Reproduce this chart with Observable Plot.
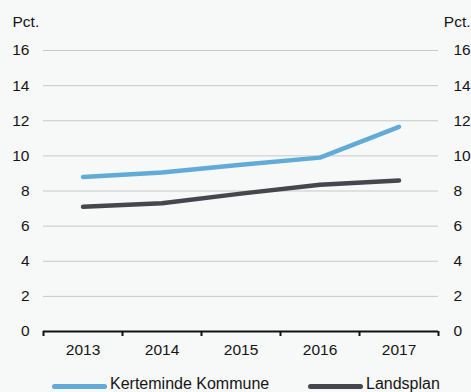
<!DOCTYPE html>
<html>
<head>
<meta charset="utf-8">
<script src="https://cdn.jsdelivr.net/npm/d3@7"></script>
<script src="https://cdn.jsdelivr.net/npm/@observablehq/plot@0.6"></script>
<style>
  html, body { margin: 0; padding: 0; background: #f7f8f8; overflow: hidden; }
  body { width: 471px; height: 392px; font-family: "Liberation Sans", Arial, sans-serif; color: #151515; }
  #chart svg { display: block; }
  #legend { position: relative; height: 26px; font-size: 16px; line-height: 18px; }
  .item { position: absolute; top: 9px; display: flex; align-items: center; }
  .sw { width: 55px; height: 5px; border-radius: 3px; margin-right: 3px; position: relative; top: 2px; }
</style>
</head>
<body>
<div id="chart"></div>
<div id="legend"></div>
<script>
const years = [2013, 2014, 2015, 2016, 2017];
const kerteminde = [8.8, 9.05, 9.5, 9.9, 11.65];
const landsplan = [7.1, 7.3, 7.85, 8.35, 8.6];
const seriesNames = ["Kerteminde Kommune", "Landsplan"];
const seriesColors = ["#62aad8", "#46474c"];
const yTicks = [0, 2, 4, 6, 8, 10, 12, 14, 16];
const unitLabel = "Pct.";

const data = [
  ...years.map((y, i) => ({year: y, value: kerteminde[i], series: seriesNames[0]})),
  ...years.map((y, i) => ({year: y, value: landsplan[i], series: seriesNames[1]}))
];
const bounds = years.map(y => y - 0.5).concat([years[years.length - 1] + 0.5]);

const fs = 15.5;
const plot = Plot.plot({
  width: 471,
  height: 366,
  marginTop: 50,
  marginBottom: 35,
  marginLeft: 43,
  marginRight: 33,
  style: {background: "#f7f8f8", fontFamily: "Liberation Sans, Arial, sans-serif", fontSize: "15.5px", color: "#151515"},
  x: {type: "linear", domain: [bounds[0], bounds[bounds.length - 1]]},
  y: {domain: [0, 16]},
  color: {domain: seriesNames, range: seriesColors},
  marks: [
    Plot.gridY(yTicks.filter(d => d > 0), {stroke: "#c8c8c8", strokeOpacity: 1, strokeWidth: 1}),
    Plot.axisY(yTicks, {anchor: "left", tickSize: 0, tickPadding: 14, label: null, fontSize: fs}),
    Plot.axisY(yTicks, {anchor: "right", tickSize: 0, tickPadding: 15, label: null, fontSize: fs}),
    Plot.axisX(bounds, {tickSize: 5, tickFormat: () => "", label: null, stroke: "#111", strokeWidth: 2, strokeOpacity: 1}),
    Plot.axisX(years, {tickSize: 0, tickPadding: 12, tickFormat: d => String(d), label: null, fontSize: fs}),
    Plot.ruleY([0], {stroke: "#111", strokeWidth: 2}),
    Plot.line(data, {x: "year", y: "value", stroke: "series", strokeWidth: 4.5, strokeLinecap: "round", strokeLinejoin: "round"}),
    Plot.text([unitLabel], {frameAnchor: "top-left", dx: -31, dy: -28, textAnchor: "start", lineAnchor: "middle", fontSize: fs, fill: "#151515"}),
    Plot.text([unitLabel], {frameAnchor: "top-right", dx: 32, dy: -28, textAnchor: "end", lineAnchor: "middle", fontSize: fs, fill: "#151515"})
  ]
});
document.getElementById("chart").appendChild(plot);

const legend = document.getElementById("legend");
const lefts = [52, 308];
seriesNames.forEach((name, i) => {
  const it = document.createElement("div");
  it.className = "item";
  it.style.left = lefts[i] + "px";
  const sw = document.createElement("span");
  sw.className = "sw";
  sw.style.background = seriesColors[i];
  const tx = document.createElement("span");
  tx.textContent = name;
  it.appendChild(sw);
  it.appendChild(tx);
  legend.appendChild(it);
});
</script>
</body>
</html>
